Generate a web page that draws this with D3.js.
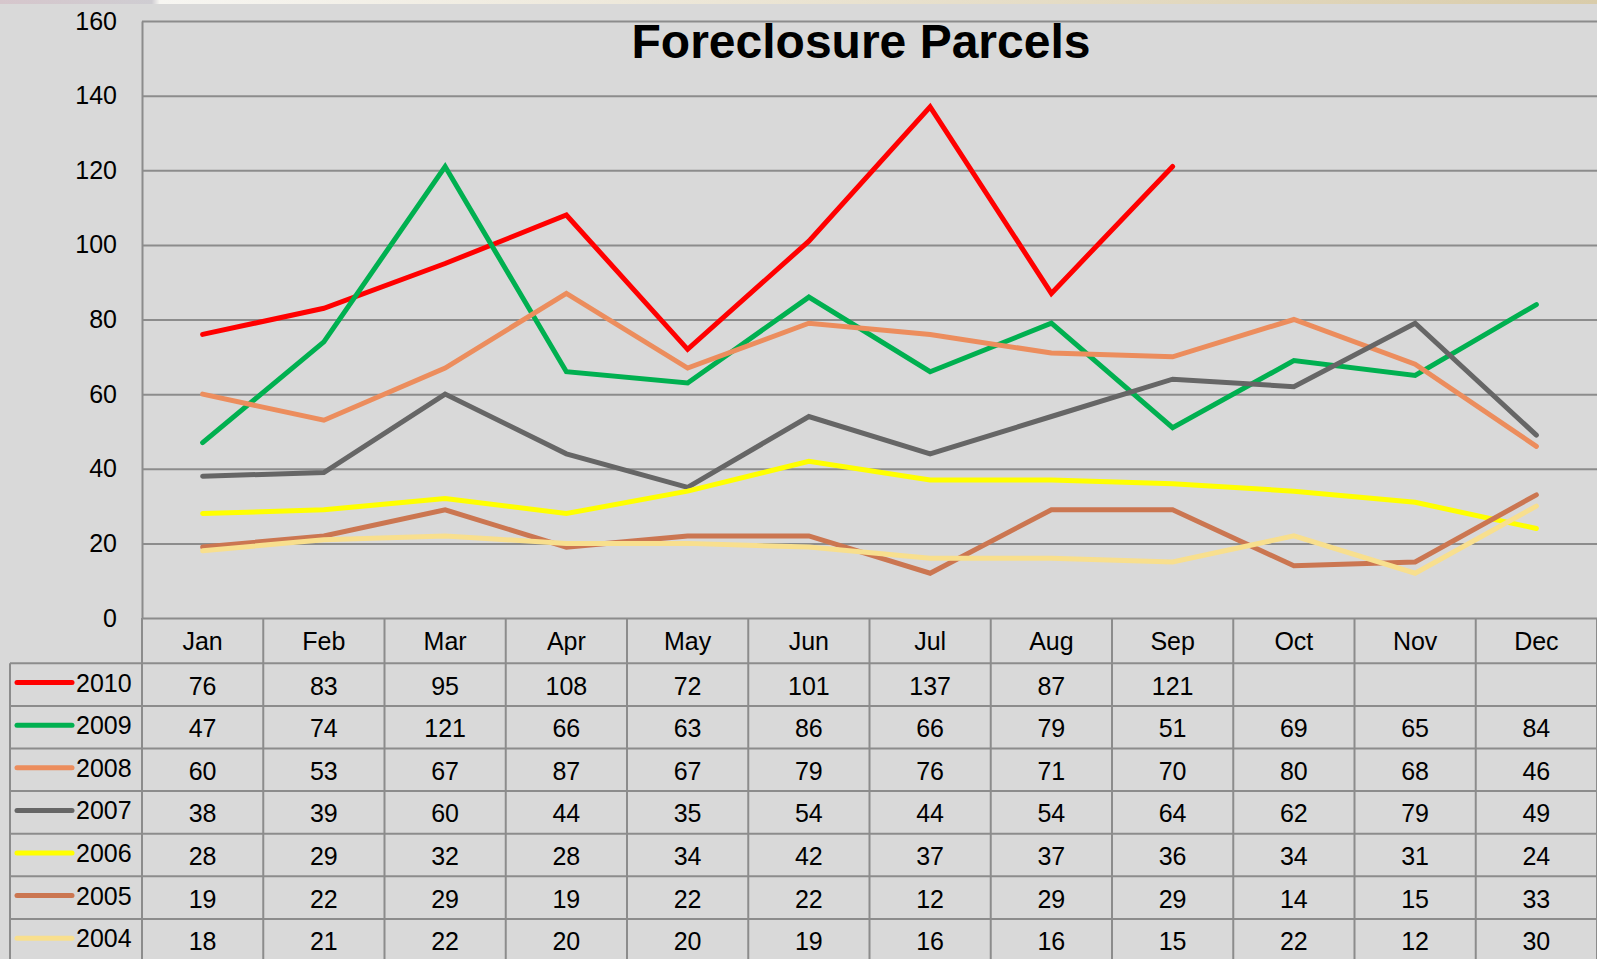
<!DOCTYPE html>
<html>
<head>
<meta charset="utf-8">
<script src="https://cdn.jsdelivr.net/npm/d3@7"></script>
<style>
  html, body { margin: 0; padding: 0; background: #d9d9d9; }
  svg { display: block; font-family: "Liberation Sans", Arial, sans-serif; }
</style>
</head>
<body>
<svg id="chart" width="1597" height="959"></svg>
<script>
// chart data
var months = ["Jan", "Feb", "Mar", "Apr", "May", "Jun", "Jul", "Aug", "Sep", "Oct", "Nov", "Dec"];
var years = ["2010", "2009", "2008", "2007", "2006", "2005", "2004"];
var yTicks = [0, 20, 40, 60, 80, 100, 120, 140, 160];

var s2010 = [76, 83, 95, 108, 72, 101, 137, 87, 121, null, null, null];
var s2009 = [47, 74, 121, 66, 63, 86, 66, 79, 51, 69, 65, 84];
var s2008 = [60, 53, 67, 87, 67, 79, 76, 71, 70, 80, 68, 46];
var s2007 = [38, 39, 60, 44, 35, 54, 44, 54, 64, 62, 79, 49];
var s2006 = [28, 29, 32, 28, 34, 42, 37, 37, 36, 34, 31, 24];
var s2005 = [19, 22, 29, 19, 22, 22, 12, 29, 29, 14, 15, 33];
var s2004 = [18, 21, 22, 20, 20, 19, 16, 16, 15, 22, 12, 30];

var seriesValues = [s2010, s2009, s2008, s2007, s2006, s2005, s2004];
var colors = ["#ff0000", "#00b050", "#ec8d5d", "#666666", "#ffff00", "#cb7651", "#f8df8e"];

var svg = d3.select("#chart"),
    width = +svg.attr("width"),
    height = +svg.attr("height");

var plotLeft = 142, plotRight = 1597, plotTop = 21, plotBottom = 618;
var gridColor = "#8c8c8c";

// thin strip along the top of the screenshot
var grad = svg.append("defs").append("linearGradient").attr("id", "strip");
grad.append("stop").attr("offset", "0%").attr("stop-color", "#d6c6cc");
grad.append("stop").attr("offset", "9.5%").attr("stop-color", "#cfcdd2");
grad.append("stop").attr("offset", "10%").attr("stop-color", "#f7f6f2");
grad.append("stop").attr("offset", "45%").attr("stop-color", "#ece6d6");
grad.append("stop").attr("offset", "100%").attr("stop-color", "#d9ccaa");
svg.append("rect").attr("x", 0).attr("y", 0).attr("width", width).attr("height", 4)
   .attr("fill", "url(#strip)");

var x = d3.scaleBand().domain(months).range([plotLeft, plotLeft + 12 * 121.25]);
var y = d3.scaleLinear().domain([0, 160]).range([plotBottom, plotTop]);

// y axis + gridlines
var yAxis = svg.append("g")
    .attr("transform", "translate(" + plotLeft + ",0)")
    .call(d3.axisLeft(y).tickValues(yTicks).tickSize(-(plotRight - plotLeft)).tickSizeOuter(0).tickPadding(25));
yAxis.select(".domain").attr("stroke", gridColor).attr("stroke-width", 2);
yAxis.selectAll(".tick line").attr("stroke", gridColor).attr("stroke-width", 2);
yAxis.selectAll(".tick text")
    .attr("fill", "#000")
    .attr("font-size", 25)
    .attr("font-family", "Liberation Sans, Arial, sans-serif");

// title
svg.append("text")
    .attr("x", 861)
    .attr("y", 58)
    .attr("text-anchor", "middle")
    .attr("font-size", 48)
    .attr("font-weight", "bold")
    .text("Foreclosure Parcels");

// data table grid
var headerBottom = 663.3, rowH = 42.6;
var table = svg.append("g").attr("stroke", gridColor).attr("stroke-width", 2);
table.append("line").attr("x1", plotLeft).attr("x2", plotLeft).attr("y1", plotBottom).attr("y2", height);
table.append("line").attr("x1", 10).attr("x2", 10).attr("y1", headerBottom).attr("y2", height);
months.forEach(function(m) {
  var xr = x(m) + x.bandwidth();
  table.append("line").attr("x1", xr).attr("x2", xr).attr("y1", plotBottom).attr("y2", height);
});
for (var r = 0; r <= years.length; r++) {
  var yy = headerBottom + r * rowH;
  table.append("line").attr("x1", 10).attr("x2", plotRight).attr("y1", yy).attr("y2", yy);
}

// month headers
svg.selectAll(".month")
    .data(months)
    .enter().append("text")
    .attr("class", "month")
    .attr("x", function(d) { return x(d) + x.bandwidth() / 2; })
    .attr("y", 650)
    .attr("text-anchor", "middle")
    .attr("font-size", 25)
    .text(function(d) { return d; });

// table rows: legend key + values
years.forEach(function(yr, i) {
  var mid = headerBottom + i * rowH + rowH / 2;
  svg.append("line")
      .attr("x1", 17).attr("x2", 72)
      .attr("y1", mid - 2).attr("y2", mid - 2)
      .attr("stroke", colors[i])
      .attr("stroke-width", 5)
      .attr("stroke-linecap", "round");
  svg.append("text")
      .attr("x", 76)
      .attr("y", mid + 7)
      .attr("font-size", 25)
      .text(yr);
  svg.selectAll(".v" + yr)
      .data(seriesValues[i])
      .enter().append("text")
      .attr("x", function(d, j) { return x(months[j]) + x.bandwidth() / 2; })
      .attr("y", mid + 10)
      .attr("text-anchor", "middle")
      .attr("font-size", 25)
      .text(function(d) { return d == null ? "" : d; });
});

// lines
var line = d3.line()
    .defined(function(d) { return d != null; })
    .x(function(d, j) { return x(months[j]) + x.bandwidth() / 2; })
    .y(function(d) { return y(d); });

seriesValues.forEach(function(vals, i) {
  svg.append("path")
      .datum(vals)
      .attr("fill", "none")
      .attr("stroke", colors[i])
      .attr("stroke-width", 5)
      .attr("stroke-linecap", "round")
      .attr("d", line);
});
</script>
</body>
</html>
